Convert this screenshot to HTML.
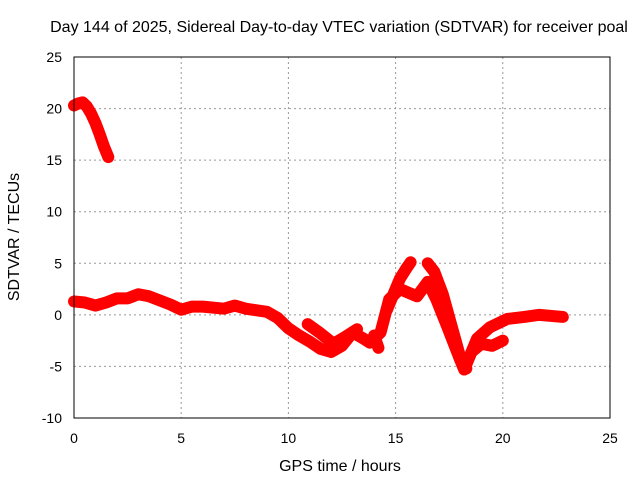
<!DOCTYPE html>
<html><head><meta charset="utf-8"><style>
body{margin:0;background:#fff}
svg{display:block;font-family:"Liberation Sans",sans-serif}
</style></head><body>
<svg id="c" width="640" height="480">
<text x="339" y="32" text-anchor="middle" font-size="16">Day 144 of 2025, Sidereal Day-to-day VTEC variation (SDTVAR) for receiver poal</text>
<text x="340" y="471" text-anchor="middle" font-size="16">GPS time / hours</text>
<text transform="translate(19,237) rotate(-90)" text-anchor="middle" font-size="16">SDTVAR / TECUs</text>
<g id="grid"></g><g id="marks"></g>
<rect x="74" y="57" width="536" height="361" fill="none" stroke="#000"/>
</svg>
<script>
const xTicks=[0,5,10,15,20,25];
const yTicks=[-10,-5,0,5,10,15,20,25];
const trackAHours=[0,0.2,0.4,0.6,0.8,1.0,1.2,1.4,1.6];
const trackAValues=[20.3,20.5,20.6,20.2,19.5,18.6,17.5,16.3,15.3];
const trackBHours=[0,0.5,1,1.5,2,2.5,3,3.5,4,4.5,5,5.5,6,7,7.5,8,9,9.5,10,10.5,11,11.5,12,12.5,13,13.5,13.8,14.3,14.7,15.2,16,16.5,16.9,17.4,18,18.2,18.8,19.4,20.2,21,21.7,22.8];
const trackBValues=[1.3,1.2,0.9,1.2,1.6,1.6,2.0,1.8,1.4,1.0,0.5,0.8,0.8,0.6,0.9,0.6,0.3,-0.3,-1.3,-2.0,-2.6,-3.3,-3.6,-3.0,-1.7,-2.3,-2.7,-1.7,1.5,2.5,1.8,3.2,1.5,-1.1,-4.3,-5.3,-2.3,-1.2,-0.4,-0.2,0.0,-0.2];
const trackCHours=[10.9,11.5,12.1,12.6,13.2];
const trackCValues=[-0.9,-1.8,-2.8,-2.2,-1.4];
const trackDHours=[14.6,14.9,15.2,15.5,15.7];
const trackDValues=[0.5,2.0,3.5,4.5,5.1];
const trackEHours=[16.5,16.8,17.2,17.6,18.0,18.3];
const trackEValues=[5.0,4.2,2.0,-1.0,-4.0,-5.2];
const trackFHours=[18.6,19.0,19.5,20.0];
const trackFValues=[-3.5,-2.8,-3.0,-2.5];
const trackGHours=[14.0,14.2];
const trackGValues=[-2.0,-3.2];
const NS="http://www.w3.org/2000/svg";
const X=h=>74+h*536/25, Y=v=>418-(v+10)*361/35;
const grid=document.getElementById('grid'), marks=document.getElementById('marks');
xTicks.forEach(t=>{
  const l=document.createElementNS(NS,'line');
  
  
  l.setAttribute('x1',X(t));l.setAttribute('x2',X(t));l.setAttribute('y1',57);l.setAttribute('y2',418);
  l.setAttribute('stroke','#999');l.setAttribute('stroke-dasharray','2,3');grid.appendChild(l);
  const tx=document.createElementNS(NS,'text');
  
  
  tx.setAttribute('x',X(t));tx.setAttribute('y',443);tx.setAttribute('text-anchor','middle');tx.setAttribute('font-size','14');
  tx.textContent=t;grid.appendChild(tx);
});
yTicks.forEach(t=>{
  const l=document.createElementNS(NS,'line');
  
  
  l.setAttribute('x1',74);l.setAttribute('x2',610);l.setAttribute('y1',Y(t));l.setAttribute('y2',Y(t));
  l.setAttribute('stroke','#999');l.setAttribute('stroke-dasharray','2,3');grid.appendChild(l);
  const tx=document.createElementNS(NS,'text');
  
  
  tx.setAttribute('x',62);tx.setAttribute('y',Y(t)+5);tx.setAttribute('text-anchor','end');tx.setAttribute('font-size','14');
  tx.textContent=t;grid.appendChild(tx);
});
function track(hs,vs,name){
  const p=document.createElementNS(NS,'polyline');
  
  
  p.setAttribute('points',hs.map((h,i)=>X(h)+','+Y(vs[i])).join(' '));
  p.setAttribute('fill','none');p.setAttribute('stroke','#f00');p.setAttribute('stroke-width','12');
  p.setAttribute('stroke-linejoin','round');p.setAttribute('stroke-linecap','round');
  marks.appendChild(p);
}
track(trackAHours,trackAValues,'series-early-track');
track(trackBHours,trackBValues,'series-main-track');
track(trackCHours,trackCValues,'series-branch-c');
track(trackDHours,trackDValues,'series-branch-d');
track(trackEHours,trackEValues,'series-branch-e');
track(trackFHours,trackFValues,'series-branch-f');
track(trackGHours,trackGValues,'series-branch-g');
</script>
</body></html>
